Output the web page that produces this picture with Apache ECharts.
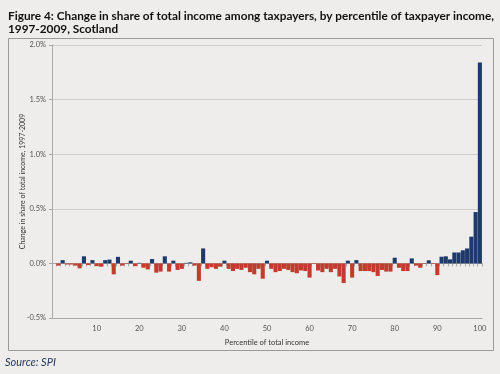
<!DOCTYPE html>
<html>
<head>
<meta charset="utf-8">
<script src="https://cdn.jsdelivr.net/npm/echarts@6/dist/echarts.min.js"></script>
<style>
html,body{margin:0;padding:0;background:#eeedeb;}
#c{width:500px;height:374px;}
</style>
</head>
<body>
<div id="c"></div>
<script>
// Percentile categories (0 is an empty leading slot on the Excel axis)
const categories = Array.from({length: 101}, (_, i) => String(i));
// Change in share of total income (percentage points), percentiles 1..100
const values = [null,
  -0.02, 0.03, -0.01, -0.01, -0.02, -0.045, 0.065, -0.015, 0.03, -0.025,
  -0.03, 0.03, 0.035, -0.1, 0.06, -0.02, -0.005, 0.025, -0.025, 0.005,
  -0.04, -0.055, 0.04, -0.085, -0.075, 0.065, -0.075, 0.025, -0.06, -0.05,
  0.005, 0.01, -0.02, -0.16, 0.137, -0.05, -0.035, -0.05, -0.03, 0.025,
  -0.05, -0.07, -0.05, -0.06, -0.04, -0.08, -0.1, -0.05, -0.14, 0.025,
  -0.05, -0.08, -0.07, -0.05, -0.06, -0.08, -0.09, -0.065, -0.07, -0.13,
  -0.005, -0.065, -0.08, -0.05, -0.08, -0.05, -0.12, -0.18, 0.025, -0.13,
  0.03, -0.07, -0.07, -0.07, -0.08, -0.115, -0.06, -0.075, -0.075, 0.052,
  -0.04, -0.07, -0.07, 0.046, -0.02, -0.04, -0.005, 0.028, -0.005, -0.107,
  0.061, 0.065, 0.037, 0.10, 0.10, 0.12, 0.137, 0.245, 0.47, 1.84
];
const xTickLabels = ['10','20','30','40','50','60','70','80','90','100'];
const titleLine1 = 'Figure 4: Change in share of total income among taxpayers, by percentile of taxpayer income,';
const titleLine2 = '1997-2009, Scotland';
const yAxisName = 'Change in share of total income, 1997-2009';
const xAxisName = 'Percentile of total income';
const sourceText = 'Source: SPI';

const BLUE = '#1d3a6b', RED = '#c23b2e';
const chart = echarts.init(document.getElementById('c'), null, {renderer: 'canvas'});
const axisFont = 'Lato, "Open Sans", sans-serif';

chart.setOption({
  backgroundColor: '#eeedeb',
  animation: false,
  graphic: [
    {type: 'rect', shape: {x: 8.5, y: 38.5, width: 485, height: 312},
     style: {fill: 'none', stroke: '#9a9a9a', lineWidth: 1}, z: -1},
    {type: 'text', left: 8, top: 10,
     style: {text: titleLine1, font: 'bold 11.8px Lato, sans-serif', fill: '#111'}},
    {type: 'text', left: 8, top: 23,
     style: {text: titleLine2, font: 'bold 11.8px Lato, sans-serif', fill: '#111'}},
    {type: 'text', left: 5, top: 357,
     style: {text: sourceText, font: 'italic 11px Lato, sans-serif', fill: '#24395e'}}
  ],
  grid: {left: 52, right: 18, top: 45, bottom: 56, containLabel: false},
  xAxis: [
    {
      type: 'category', data: categories, position: 'bottom',
      name: xAxisName, nameLocation: 'middle', nameGap: 21,
      nameTextStyle: {fontSize: 7.5, color: '#333', fontFamily: axisFont},
      axisLine: {onZero: false, lineStyle: {color: '#a8a8a8'}},
      axisTick: {show: false},
      axisLabel: {
        color: '#555', fontSize: 7.5, fontFamily: axisFont, margin: 7,
        interval: (i, v) => xTickLabels.indexOf(v) >= 0
      },
      splitLine: {show: false}
    },
    {
      type: 'category', data: categories, position: 'bottom',
      axisLine: {onZero: true, lineStyle: {color: '#a8a8a8'}},
      axisTick: {show: true, interval: 0, length: 3, lineStyle: {color: '#a8a8a8'}},
      axisLabel: {show: false},
      splitLine: {show: false}
    }
  ],
  yAxis: {
    type: 'value', min: -0.5, max: 2.0, interval: 0.5,
    name: yAxisName, nameLocation: 'middle', nameGap: 26, nameMoveOverlap: false,
    nameTextStyle: {fontSize: 7, color: '#333', fontFamily: axisFont},
    axisLine: {show: true, lineStyle: {color: '#a8a8a8'}},
    axisTick: {show: true, length: 3, lineStyle: {color: '#a8a8a8'}},
    axisLabel: {color: '#555', fontSize: 7.5, fontFamily: axisFont, margin: 6,
      formatter: v => v.toFixed(1) + '%'},
    splitLine: {show: true, lineStyle: {color: '#cdcdcd'}}
  },
  series: [{
    type: 'bar', data: values, xAxisIndex: 0,
    barCategoryGap: '4%',
    itemStyle: {color: p => (p.value < 0 ? RED : BLUE)}
  }]
});
</script>
</body>
</html>
